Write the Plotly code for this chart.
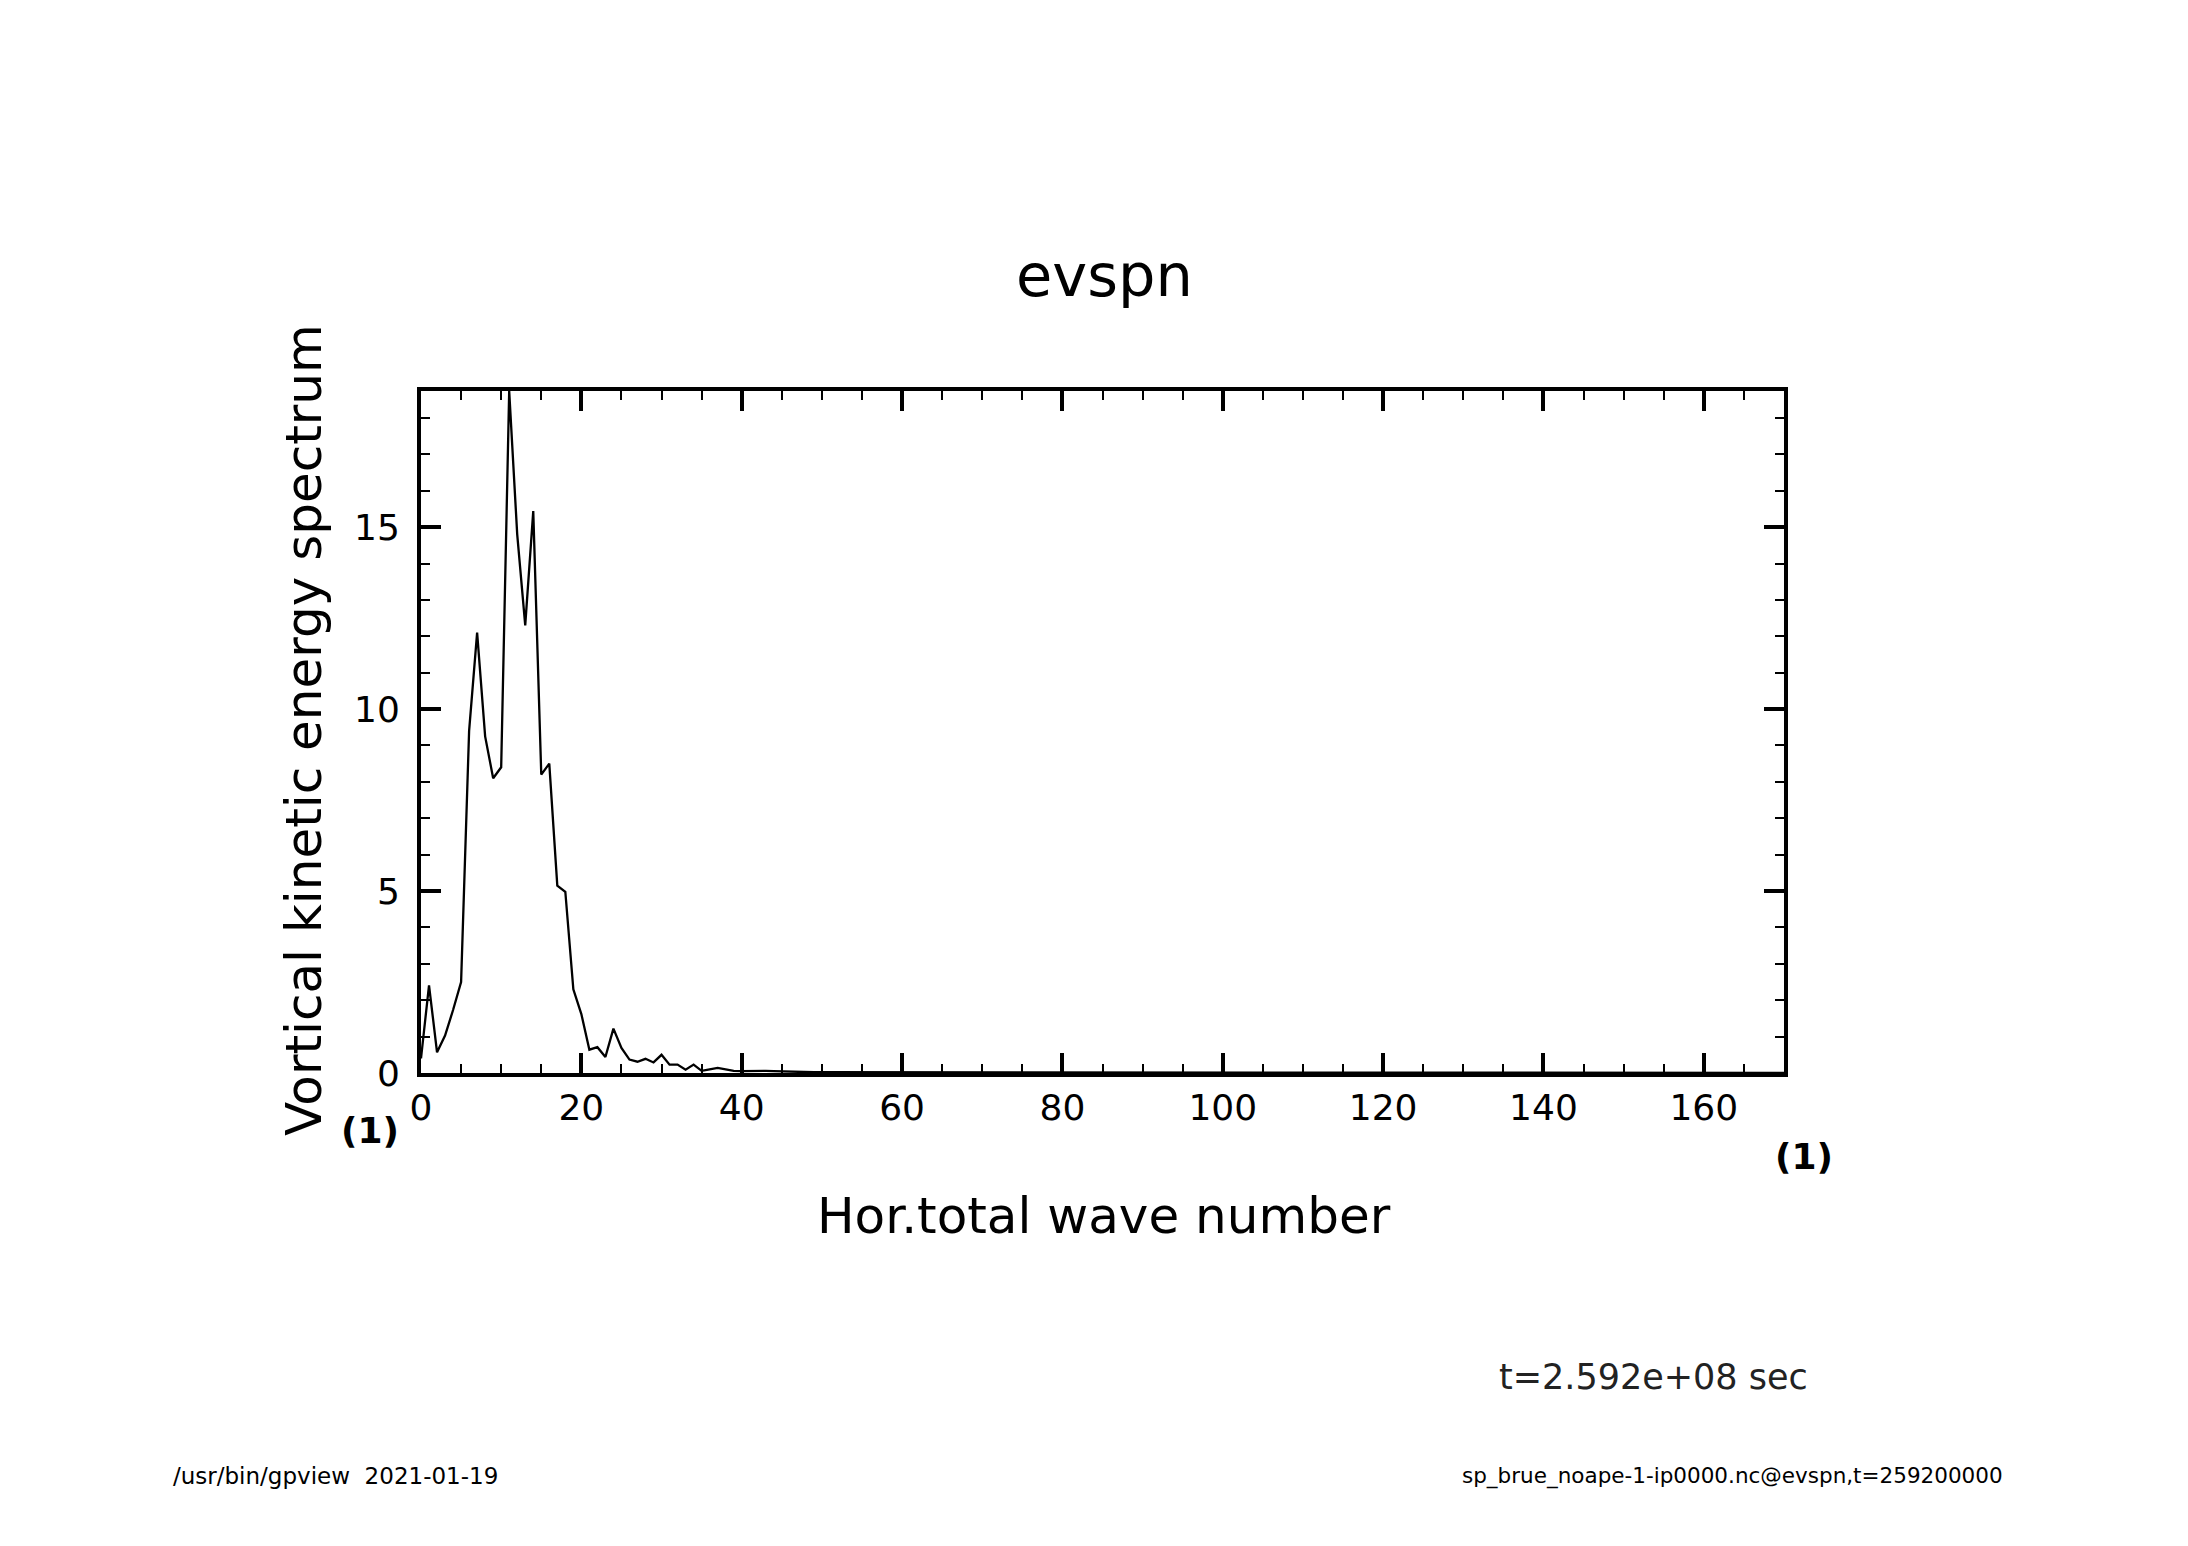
import plotly.graph_objects as go

# ---- data ----
wave_number = list(range(0, 171))
energy = [
    0.40, 2.41, 0.57, 1.03, 1.73, 2.50, 9.40, 12.10, 9.25, 8.10,
    8.40, 18.74, 14.80, 12.30, 15.44, 8.20, 8.50, 5.15, 4.98, 2.30,
    1.62, 0.64, 0.71, 0.44, 1.22, 0.69, 0.37, 0.31, 0.39, 0.29,
    0.50, 0.23, 0.23, 0.09, 0.23, 0.06, 0.10, 0.14, 0.10, 0.06,
    0.05, 0.06, 0.07, 0.06, 0.05, 0.04, 0.04, 0.03, 0.03, 0.02,
    0.02, 0.020, 0.015, 0.015, 0.010, 0.010, 0.010, 0.010, 0.008, 0.007,
    0.006, 0.005, 0.005, 0.005, 0.005, 0.005, 0.005, 0.005, 0.005, 0.005,
    0.005, 0.005, 0.005, 0.005, 0.005, 0.005, 0.005, 0.005, 0.005, 0.005,
    0.005, 0.004, 0.004, 0.004, 0.004, 0.004, 0.004, 0.004, 0.004, 0.004,
    0.004, 0.004, 0.004, 0.004, 0.004, 0.004, 0.004, 0.004, 0.004, 0.004,
    0.004, 0.003, 0.003, 0.003, 0.003, 0.003, 0.003, 0.003, 0.003, 0.003,
    0.003, 0.003, 0.003, 0.003, 0.003, 0.003, 0.003, 0.003, 0.003, 0.003,
    0.003, 0.002, 0.002, 0.002, 0.002, 0.002, 0.002, 0.002, 0.002, 0.002,
    0.002, 0.002, 0.002, 0.002, 0.002, 0.002, 0.002, 0.002, 0.002, 0.002,
    0.002, 0.002, 0.002, 0.002, 0.002, 0.002, 0.002, 0.002, 0.002, 0.002,
    0.002, 0.001, 0.001, 0.001, 0.001, 0.001, 0.001, 0.001, 0.001, 0.001,
    0.001, 0.001, 0.001, 0.001, 0.001, 0.001, 0.001, 0.001, 0.001, 0.001,
    0.001,
]
x_ticks = [0, 20, 40, 60, 80, 100, 120, 140, 160]
y_ticks = [0, 5, 10, 15]

title_text = "evspn"
x_title = "Hor.total wave number"
y_title = "Vortical kinetic energy spectrum"
unit_label = "(1)"
time_text = "t=2.592e+08 sec"
footer_left = "/usr/bin/gpview  2021-01-19"
footer_right = "sp_brue_noape-1-ip0000.nc@evspn,t=259200000"

# ---- layout geometry (pixels) ----
W, H = 2188, 1546
L, R, T, B = 413, 1776, 383, 1065
FONT = "DejaVu Sans"


def px(x):
    return (x - L) / (R - L)


def py(y):
    return (B - y) / (B - T)


fig = go.Figure()
fig.add_trace(go.Scatter(
    x=wave_number, y=energy, mode="lines",
    line=dict(color="black", width=2.3), showlegend=False, hoverinfo="skip",
))

axis_common = dict(
    showline=True, linecolor="black", linewidth=4, mirror="ticks",
    ticks="inside", ticklen=20, tickwidth=3.5, tickcolor="black",
    showgrid=False, zeroline=False,
    tickfont=dict(family=FONT, size=36, color="black"),
)

fig.update_xaxes(
    range=[0, 170], tickvals=x_ticks, ticklabelstandoff=0,
    minor=dict(ticks="inside", ticklen=9, tickwidth=2, tickcolor="black", dtick=5, showgrid=False),
    **axis_common,
)
fig.update_yaxes(
    range=[0, max(energy)], tickvals=y_ticks, ticklabelstandoff=10,
    minor=dict(ticks="inside", ticklen=9, tickwidth=2, tickcolor="black", dtick=1, showgrid=False),
    **axis_common,
)

ann = []


def add_text(text, x, y, size, xanchor="center", yanchor="middle", angle=0,
             color="black", weight="normal"):
    ann.append(dict(
        text=text, x=px(x), y=py(y), xref="paper", yref="paper",
        xanchor=xanchor, yanchor=yanchor, showarrow=False, textangle=angle,
        font=dict(family=FONT, size=size, color=color, weight=weight),
    ))


add_text(title_text, 1096, 268, 59)
add_text(y_title, 296, 722, 50, angle=-90)
add_text(x_title, 1096, 1208, 50)
add_text(unit_label, 362, 1122, 36, weight="bold")
add_text(unit_label, 1796, 1148, 36, weight="bold")
add_text(time_text, 1802, 1369, 35, xanchor="right", color="#222222")
add_text(footer_left, 163, 1468, 23, xanchor="left")
add_text(footer_right, 1997, 1468, 21.5, xanchor="right")

fig.update_layout(
    width=W, height=H,
    margin=dict(l=L, r=W - R, t=T, b=H - B, pad=0),
    paper_bgcolor="white", plot_bgcolor="white",
    annotations=ann,
)

fig.write_html("out.html")
